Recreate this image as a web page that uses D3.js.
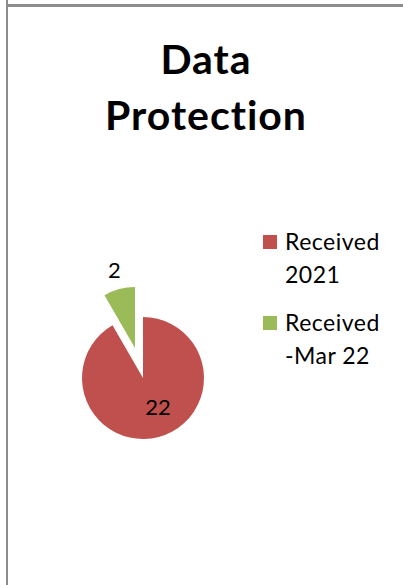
<!DOCTYPE html>
<html>
<head>
<meta charset="utf-8">
<script src="https://cdn.jsdelivr.net/npm/d3@7"></script>
<style>
  html, body { margin: 0; padding: 0; background: #fff; }
  svg { display: block; }
  text { font-variant-ligatures: none; }
</style>
</head>
<body>
<svg id="chart" width="403" height="585"></svg>
<script>
// dados do gráfico
const categories = ["Received 2021", "Received -Mar 22"];
const legendLines = [["Received", "2021"], ["Received", "-Mar 22"]];
const values = [22, 2];
const colors = ["#C0504D", "#9BBB59"];
const exploded = [false, true];

const svg = d3.select("#chart");
const width = +svg.attr("width");
const height = +svg.attr("height");
const font = "Lato, 'DejaVu Sans', sans-serif";

// moldura cinza (borda do gráfico)
svg.append("line")
  .attr("x1", 7).attr("y1", 0).attr("x2", 7).attr("y2", height)
  .attr("stroke", "#8c8c8c").attr("stroke-width", 2);
svg.append("line")
  .attr("x1", 6).attr("y1", 5.5).attr("x2", width).attr("y2", 5.5)
  .attr("stroke", "#8c8c8c").attr("stroke-width", 3);

// título
const title = svg.append("text")
  .attr("x", 206)
  .attr("text-anchor", "middle")
  .attr("font-family", font)
  .attr("font-weight", "bold")
  .attr("font-size", "41px")
  .attr("letter-spacing", "1px")
  .attr("fill", "#000");
title.append("tspan").attr("x", 206).attr("y", 74).text("Data");
title.append("tspan").attr("x", 206).attr("y", 130).text("Protection");

// pizza
const cx = 143, cy = 378, radius = 61;
const g = svg.append("g").attr("transform", `translate(${cx},${cy})`);

const pie = d3.pie().sort(null).value(d => d);
const arcs = pie(values);
const arc = d3.arc().innerRadius(0).outerRadius(radius);
const explodeOffset = 31;

function offset(d, i) {
  if (!exploded[i]) return [0, 0];
  const a = (d.startAngle + d.endAngle) / 2;
  return [Math.sin(a) * explodeOffset, -Math.cos(a) * explodeOffset];
}

g.selectAll("path.slice")
  .data(arcs)
  .enter()
  .append("path")
  .attr("class", "slice")
  .attr("d", arc)
  .attr("transform", (d, i) => `translate(${offset(d, i)})`)
  .attr("fill", (d, i) => colors[i]);

// rótulos de dados
const outerLabel = d3.arc().innerRadius(radius + 19).outerRadius(radius + 19);
g.selectAll("text.value")
  .data(arcs)
  .enter()
  .append("text")
  .attr("class", "value")
  .attr("transform", (d, i) => {
    const o = offset(d, i);
    const c = exploded[i] ? outerLabel.centroid(d) : arc.centroid(d);
    const dx = exploded[i] ? 0 : 7;
    return `translate(${c[0] + o[0] + dx},${c[1] + o[1]})`;
  })
  .attr("text-anchor", "middle")
  .attr("dy", "0.35em")
  .attr("font-family", font)
  .attr("font-size", "22px")
  .attr("fill", "#000")
  .text(d => d.data);

// legenda
const legend = svg.append("g").attr("transform", "translate(263,233)");
const item = legend.selectAll("g.item")
  .data(categories)
  .enter()
  .append("g")
  .attr("class", "item")
  .attr("transform", (d, i) => `translate(0,${i * 81})`);

item.append("rect")
  .attr("width", 14).attr("height", 14)
  .attr("y", 2)
  .attr("fill", (d, i) => colors[i]);

item.each(function(d, i) {
  const t = d3.select(this).append("text")
    .attr("font-family", font)
    .attr("font-size", "23px")
    .attr("letter-spacing", "0.5px")
    .attr("fill", "#000");
  legendLines[i].forEach((line, j) => {
    t.append("tspan").attr("x", 22).attr("y", 17 + j * 33).text(line);
  });
});
</script>
</body>
</html>
